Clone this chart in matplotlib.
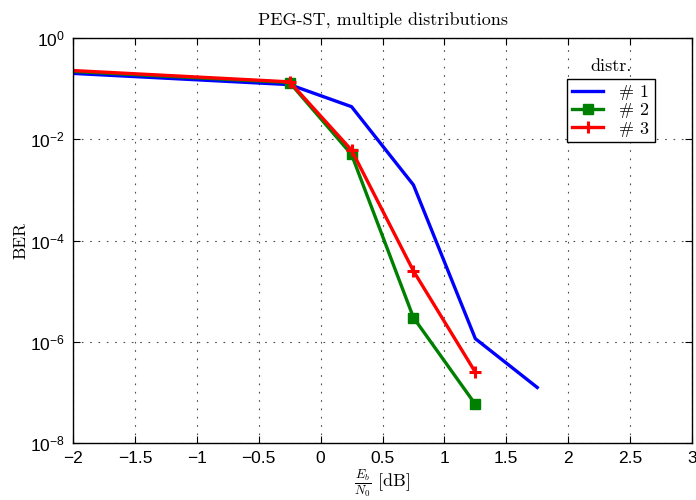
import math
import matplotlib
matplotlib.use("Agg")
import matplotlib.pyplot as plt
from matplotlib.ticker import FixedLocator, NullLocator, FuncFormatter

plt.rcParams["mathtext.fontset"] = "custom"
plt.rcParams["mathtext.rm"] = "Liberation Sans"
plt.rcParams["mathtext.it"] = "Liberation Sans:italic"
plt.rcParams["mathtext.bf"] = "Liberation Sans:bold"
plt.rcParams["font.family"] = ["Liberation Sans", "DejaVu Sans"]

# Eb/N0 in dB
snr_db = [-2.25, -0.25, 0.25, 0.75, 1.25, 1.75]
ber_d1 = [0.215, 0.12, 0.044, 1.25e-3, 1.15e-6, 1.25e-7]
snr_d23 = [-2.25, -0.25, 0.25, 0.75, 1.25]
ber_d2 = [0.235, 0.132, 5.0e-3, 3.0e-6, 5.8e-8]
ber_d3 = [0.245, 0.136, 6.1e-3, 2.5e-5, 2.5e-7]
labels = ["# 1", "# 2", "# 3"]

x_ticks = [-2, -1.5, -1, -0.5, 0, 0.5, 1, 1.5, 2, 2.5, 3]
y_ticks = [1e-8, 1e-6, 1e-4, 1e-2, 1e0]

fig = plt.figure(figsize=(6.96, 5.0), dpi=100)
ax = fig.add_axes([73 / 696, 1 - 443 / 500, (692 - 73) / 696, (443 - 38) / 500])

ax.semilogy(snr_db, ber_d1, color=(0, 0, 1), lw=2.4, label=labels[0])
ax.semilogy(snr_d23, ber_d2, color=(0, 0.5, 0), lw=2.4, marker="s", ms=7,
            mfc=(0, 0.5, 0), mec=(0, 0.5, 0), label=labels[1])
ax.semilogy(snr_d23, ber_d3, color=(1, 0, 0), lw=2.4, marker="+", ms=8,
            mew=2.2, label=labels[2])

ax.set_xlim(-2, 3)
ax.set_ylim(1e-8, 1)
ax.xaxis.set_major_locator(FixedLocator(x_ticks))
ax.yaxis.set_major_locator(FixedLocator(y_ticks))
ax.yaxis.set_minor_locator(NullLocator())


def xfmt(v, pos):
    return ("%g" % v).replace("-", "\u2212")


def yfmt(v, pos):
    return r"$10^{%d}$" % int(round(math.log10(v)))


ax.xaxis.set_major_formatter(FuncFormatter(xfmt))
ax.yaxis.set_major_formatter(FuncFormatter(yfmt))
ax.tick_params(which="both", direction="in", top=True, right=True,
               length=5, width=0.8, labelsize=12.5, pad=6)
ax.grid(True, which="major", color=(0.3, 0.3, 0.3), linestyle=(0, (1.5, 6)),
        lw=0.8)
for sp in ax.spines.values():
    sp.set_linewidth(1.0)

ax.set_title("PEG-ST, multiple distributions", fontfamily="cmr10",
             fontsize=13, pad=9)
ax.set_ylabel("BER", fontfamily="cmr10", fontsize=12.5, labelpad=1)
xl = ax.set_xlabel(r"$\frac{E_b}{N_0}$ [dB]", fontfamily="cmr10", fontsize=13,
                   labelpad=0.5)
xl.set_math_fontfamily("cm")

leg = ax.legend(loc="upper left", bbox_to_anchor=(567 / 696, 1 - 79 / 500),
                bbox_transform=fig.transFigure, borderaxespad=0,
                prop={"family": "cmr10", "size": 13}, frameon=True,
                fancybox=False, framealpha=1, edgecolor="black",
                handlelength=1.7, handletextpad=0.9, borderpad=0.3,
                labelspacing=0.15)
leg.get_frame().set_linewidth(1.0)
fig.text(611 / 696, 1 - 66 / 500, "distr.", fontfamily="cmr10", fontsize=13,
         ha="center", va="center")

fig.savefig("out.png", dpi=100)
